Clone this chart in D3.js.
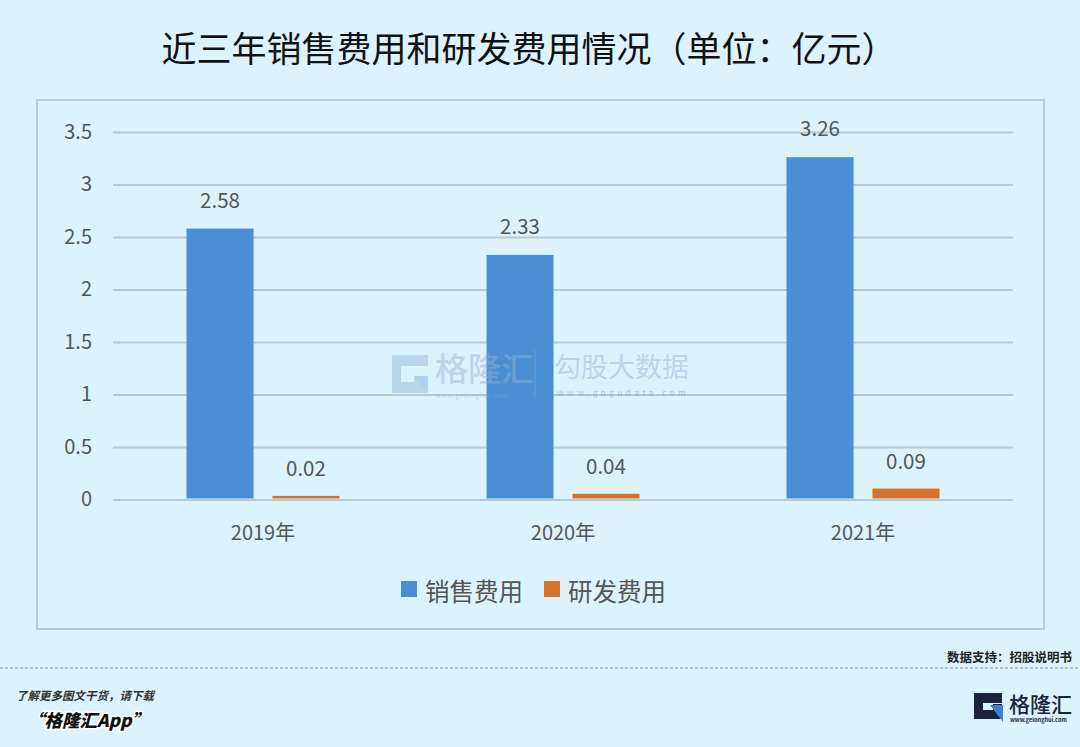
<!DOCTYPE html>
<html><head><meta charset="utf-8">
<script src="https://cdn.jsdelivr.net/npm/d3@7"></script>
<style>
html,body{margin:0;padding:0;background:#dcf3fe;}
svg{display:block;}
text{font-family:"Noto Sans CJK SC","Noto Sans",sans-serif;}
</style></head>
<body><svg id="c" width="1080" height="747"></svg>
<script>
const title = "近三年销售费用和研发费用情况（单位：亿元）";
const categories = ["2019年", "2020年", "2021年"];
const seriesNames = ["销售费用", "研发费用"];
const salesExpense = [2.58, 2.33, 3.26];
const rdExpense = [0.02, 0.04, 0.09];
const yTicks = [0, 0.5, 1, 1.5, 2, 2.5, 3, 3.5];
const colors = ["#4a8fd3", "#d5722b"];
const source = "数据支持：招股说明书";
const footerLine1 = "了解更多图文干货，请下载";
const footerLine2 = "“格隆汇App”";

const seriesValues = [salesExpense, rdExpense];
const svg = d3.select("#c");
svg.append("rect").attr("width",1080).attr("height",747).attr("fill","#dcf3fe");

// title
svg.append("text").attr("x",529).attr("y",62).attr("text-anchor","middle")
  .attr("font-size",35).attr("font-weight",400).attr("fill","#111").text(title);

// frame
svg.append("rect").attr("x",37).attr("y",100).attr("width",1007).attr("height",529)
  .attr("fill","none").attr("stroke","#bccbd4").attr("stroke-width",2);

const x0 = d3.scaleBand().domain(categories).range([113,1013]).paddingInner(0.49).paddingOuter(0.245);
const x1 = d3.scaleBand().domain(seriesNames).range([0,x0.bandwidth()]).paddingInner(0.22);
const y = d3.scaleLinear().domain([0,3.5]).range([499.5,132]);

// y axis with gridlines
const yAxis = svg.append("g").attr("transform","translate(113,0)")
  .call(d3.axisLeft(y).tickValues(yTicks).tickFormat(d=>String(d)).tickSize(-900).tickPadding(21));
yAxis.select(".domain").remove();
yAxis.selectAll(".tick line").attr("stroke","#b9c9d1").attr("stroke-width",2);
yAxis.selectAll(".tick text").attr("font-size",20).attr("fill","#555").attr("font-family","'Noto Sans','Noto Sans CJK SC',sans-serif");

// x axis
const xAxis = svg.append("g").attr("transform","translate(0,499.5)")
  .call(d3.axisBottom(x0).tickSize(0).tickPadding(26));
xAxis.select(".domain").remove();
xAxis.selectAll(".tick text").attr("font-size",20).attr("fill","#555").attr("font-family","'Noto Sans','Noto Sans CJK SC',sans-serif");

// bars
const groups = svg.append("g").selectAll("g").data(categories).join("g")
  .attr("transform",d=>`translate(${x0(d)},0)`);
seriesNames.forEach((s,si)=>{
  groups.append("rect")
    .attr("x",x1(s)).attr("width",x1.bandwidth())
    .attr("y",(d,i)=>y(seriesValues[si][i]) - (si===1?1.5:0))
    .attr("height",(d,i)=>y(0)-y(seriesValues[si][i]) - 1 + (si===1?1.5:0))
    .attr("fill",colors[si]);
  groups.append("text")
    .attr("x",x1(s)+x1.bandwidth()/2)
    .attr("y",(d,i)=>y(seriesValues[si][i]) - 21)
    .attr("text-anchor","middle").attr("font-size",20.5).attr("fill","#555")
    .attr("font-family","'Noto Sans','Noto Sans CJK SC',sans-serif")
    .text((d,i)=>seriesValues[si][i].toFixed(2));
});

// watermark (drawn over bars, translucent)
const wm = svg.append("g").attr("opacity",0.45);
wm.append("path").attr("d","M392,355 H428 V366 H401 V382 H414 V376 H428 V393 H392 Z").attr("fill","#93afcf");
wm.append("path").attr("d","M414,376 H428 V393 Z").attr("fill","#7fa7d6");
wm.append("text").attr("x",435).attr("y",381).attr("font-size",33).attr("fill","#93afcf").attr("font-weight",500).text("格隆汇");
wm.append("text").attr("x",436).attr("y",398).attr("font-size",6.5).attr("fill","#93afcf").attr("letter-spacing",0.6).text("www.gelonghui.com");
wm.append("line").attr("x1",535).attr("x2",535).attr("y1",350).attr("y2",398).attr("stroke","#93afcf").attr("stroke-width",1);
wm.append("text").attr("x",554).attr("y",377).attr("font-size",27).attr("fill","#93afcf").text("勾股大数据");
wm.append("text").attr("x",557).attr("y",396).attr("font-size",8.5).attr("fill","#6f90bb").attr("letter-spacing",3.3).text("www.gogudata.com");

// legend
const legend = svg.append("g");
const legendX = [401, 544];
seriesNames.forEach((s,i)=>{
  legend.append("rect").attr("x",legendX[i]).attr("y",581).attr("width",16).attr("height",16).attr("fill",colors[i]);
  legend.append("text").attr("x",legendX[i]+24).attr("y",601).attr("font-size",24.5).attr("fill","#555").text(s);
});

// footer
svg.append("line").attr("x1",0).attr("x2",1080).attr("y1",668).attr("y2",668)
  .attr("stroke","#8a8f94").attr("stroke-width",1).attr("stroke-dasharray","3,2");
svg.append("text").attr("x",1072).attr("y",662).attr("text-anchor","end").attr("font-size",12.5)
  .attr("font-weight",700).attr("fill","#222").text(source);
svg.append("text").attr("x",16).attr("y",700).attr("font-size",11.5).attr("font-style","italic")
  .attr("font-weight",700).attr("fill","#333").text(footerLine1);
svg.append("text").attr("x",27).attr("y",727).attr("font-size",17.5).attr("font-style","italic")
  .attr("font-weight",900).attr("fill","#111").attr("stroke","#fff").attr("stroke-width",3)
  .attr("paint-order","stroke").text(footerLine2);

// bottom-right logo
const lg = svg.append("g");
lg.append("path").attr("d","M974,693 H1002 V703 H983 V710 H993 V704 H1002 V719 H974 Z").attr("fill","#1a2240");
lg.append("path").attr("d","M990,705 H1003 V722 Z").attr("fill","#3c82d2");
lg.append("text").attr("x",1009).attr("y",712).attr("font-size",21).attr("font-weight",500).attr("fill","#1a2240").text("格隆汇");
lg.append("text").attr("x",1010).attr("y",722).attr("font-size",5.6).attr("font-weight",700).attr("fill","#1a2240").text("www.gelonghui.com");
</script></body></html>
